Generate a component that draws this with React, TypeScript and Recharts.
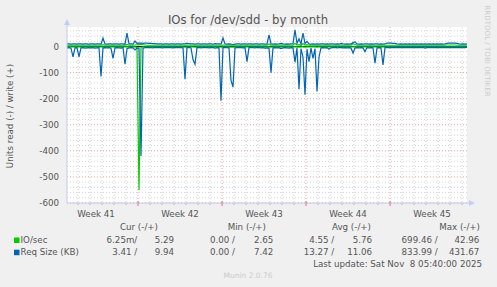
import { ComposedChart, Line, XAxis, YAxis, CartesianGrid, ReferenceLine } from "recharts";

// time axis: days relative to the start of week 42 (first red line)
const startDay = -5.92;
const stepDays = 1 / 6;

const weekLabels = ["Week 41", "Week 42", "Week 43", "Week 44", "Week 45"];
const weekLabelDays = [-3.5, 3.5, 10.5, 17.5, 24.5];
const weekStarts = [0, 7, 14, 21];
const yTicks = [-600, -500, -400, -300, -200, -100, 0];

// IO/sec, read (negative) and write (positive)
const ioRead = [
  -1, -1, -1, -1, -1, -1, -1, -1, -1, -1, -1, -1, -1, -1, -1, -1, -1, -1, -1, -1,
  -1, -1, -1, -1, -1, -1, -1, -1, -1, -1, -1, -1, -1, -1, -1, -3, -550, -3, -1, -1,
  -1, -1, -1, -1, -1, -1, -1, -1, -1, -1, -1, -1, -1, -1, -1, -1, -1, -1, -1, -2,
  -1, -1, -1, -1, -2, -1, -1, -1, -1, -1, -1, -1, -1, -1, -1, -1, -1, -2, -1, -1,
  -1, -1, -2, -2, -1, -1, -1, -1, -1, -1, -1, -1, -1, -1, -1, -1, -1, -1, -1, -1,
  -1, -1, -2, -1, -1, -1, -1, -1, -1, -1, -1, -1, -1, -1, -1, -1, -2, -1, -1, -2,
  -1, -1, -1, -1, -1, -2, -1, -1, -1, -1, -1, -1, -1, -1, -1, -1, -1, -1, -1, -1,
  -1, -1, -1, -1, -1, -1, -1, -1, -1, -1, -1, -1, -1, -1, -1, -1, -1, -1, -1, -1,
  -1, -1, -1, -1, -1, -1, -1, -1, -1, -1, -1, -1, -1, -1, -1, -1, -1, -1, -1, -1,
  -1, -1, -1, -1, -1, -1, -1, -1, -1, -1, -1, -1, -1, -1, -1, -1, -1, -1, -1, -1,
  -1,
];
const ioWrite = [
  5, 5, 5, 5, 5, 5, 5, 5, 5, 5, 5, 5, 5, 5, 5, 5, 5, 5, 7, 5,
  5, 5, 5, 5, 5, 5, 5, 5, 5, 5, 8, 5, 5, 5, 6, 7, 8, 8, 7, 6,
  5, 5, 5, 5, 5, 5, 5, 5, 5, 5, 5, 5, 5, 5, 5, 5, 5, 5, 5, 5,
  5, 5, 5, 5, 5, 5, 5, 5, 5, 5, 5, 5, 5, 5, 5, 5, 5, 5, 6, 5,
  5, 5, 5, 5, 5, 5, 5, 5, 5, 5, 5, 5, 5, 5, 5, 5, 5, 5, 5, 5,
  5, 10, 5, 5, 5, 5, 5, 6, 5, 5, 5, 5, 5, 5, 12, 6, 7, 5, 12, 6,
  7, 5, 5, 5, 5, 5, 5, 5, 5, 5, 5, 5, 5, 5, 5, 5, 5, 6, 5, 5,
  5, 5, 5, 11, 8, 5, 5, 5, 5, 5, 5, 5, 5, 5, 5, 5, 5, 5, 5, 5,
  5, 5, 5, 5, 5, 5, 5, 5, 5, 5, 5, 5, 5, 5, 5, 5, 5, 5, 5, 5,
  5, 5, 5, 5, 5, 5, 5, 5, 5, 5, 6, 6, 6, 6, 6, 5, 5, 5, 5, 5,
  5,
];

// Req Size (KB), read (negative) and write (positive)
const reqRead = [
  -5, -4, -6, -40, -5, -4, -40, -5, -4, -6, -5, -4, -5, -4, -6, -5, -4, -115, -5, -4,
  -5, -4, -6, -45, -5, -4, -5, -6, -4, -68, -8, -5, -4, -5, -13, -6, -5, -420, -6, -4,
  -4, -3, -4, -5, -3, -4, -3, -4, -5, -3, -4, -3, -4, -5, -3, -4, -3, -4, -5, -125,
  -4, -3, -5, -50, -68, -4, -3, -5, -4, -3, -4, -5, -3, -4, -6, -4, -5, -208, -4, -3,
  -4, -5, -130, -155, -5, -4, -3, -4, -5, -4, -58, -4, -3, -4, -5, -3, -4, -5, -4, -6,
  -5, -6, -100, -5, -4, -5, -4, -8, -5, -4, -5, -6, -4, -5, -60, -5, -164, -8, -40, -185,
  -10, -58, -6, -45, -8, -172, -40, -5, -4, -5, -4, -10, -5, -4, -3, -5, -4, -3, -5, -4,
  -5, -4, -6, -25, -6, -4, -5, -4, -5, -20, -4, -5, -4, -5, -64, -5, -4, -5, -70, -4,
  -3, -4, -3, -4, -3, -4, -3, -4, -3, -4, -3, -4, -3, -4, -3, -4, -3, -4, -3, -6,
  -3, -4, -3, -4, -3, -4, -3, -4, -3, -4, -3, -4, -3, -4, -3, -4, -3, -4, -3, -4,
  -3,
];
const reqWrite = [
  10, 10, 9, 10, 10, 9, 10, 10, 9, 10, 10, 9, 10, 10, 9, 10, 10, 9, 32, 10,
  9, 10, 10, 9, 10, 10, 9, 10, 10, 9, 52, 10, 10, 9, 21, 12, 13, 13, 12, 13,
  13, 12, 12, 11, 11, 10, 10, 10, 9, 10, 10, 9, 10, 10, 9, 10, 10, 9, 10, 10,
  12, 11, 10, 10, 9, 10, 10, 9, 10, 10, 9, 10, 10, 9, 11, 10, 10, 9, 33, 10,
  9, 10, 9, 8, 9, 10, 10, 9, 10, 10, 9, 10, 10, 9, 10, 10, 9, 10, 10, 9,
  10, 45, 10, 9, 10, 9, 10, 12, 10, 9, 10, 9, 10, 11, 64, 12, 30, 10, 52, 12,
  20, 10, 9, 10, 9, 10, 9, 10, 10, 9, 10, 9, 10, 10, 9, 10, 9, 12, 10, 9,
  10, 9, 10, 15, 18, 10, 9, 10, 9, 10, 10, 9, 10, 9, 10, 10, 9, 10, 9, 10,
  13, 13, 13, 12, 12, 10, 9, 10, 9, 10, 9, 10, 9, 10, 9, 10, 9, 10, 9, 10,
  9, 10, 9, 10, 9, 10, 9, 10, 9, 10, 12, 13, 13, 13, 13, 12, 10, 9, 10, 9,
  10,
];

const legendSeries = ["IO/sec", "Req Size (KB)"];
const legendColors = ["#00cc00", "#0066b3"];
const legendHeaders = ["Cur (-/+)", "Min (-/+)", "Avg (-/+)", "Max (-/+)"];
const legendValues = [
  ["6.25m/", "5.29", "0.00 /", "2.65", "4.55 /", "5.76", "699.46 /", "42.96"],
  ["3.41 /", "9.94", "0.00 /", "7.42", "13.27 /", "11.06", "833.99 /", "431.67"],
];
const lastUpdate = "Last update: Sat Nov  8 05:40:00 2025";

const rows = reqRead.map((_, i) => ({
  t: startDay + i * stepDays,
  ioRead: ioRead[i],
  ioWrite: ioWrite[i],
  reqRead: reqRead[i],
  reqWrite: reqWrite[i],
}));
const endDay = startDay + (reqRead.length - 1) * stepDays;

const plotLeft = 67;
const plotRight = 467;
const plotTop = 27;
const plotBottom = 203;
const pxPerDay = (plotRight - plotLeft) / (endDay - startDay);

const minorH: number[] = [];
for (let v = -580; v <= 60; v += 20) if (v % 100 !== 0) minorH.push(v);
const majorH = [-600, -500, -400, -300, -200, -100];
const minorV: number[] = [];
for (let d = Math.ceil(startDay); d <= endDay; d++) if (d % 7 !== 0) minorV.push(d);

const font = "'DejaVu Sans', sans-serif";
const txt = "#555";
const axisCol = "#c5ccf2";
const colEnds = [137.3, 174, 235, 273.3, 334.3, 372, 437.7, 479.3];
const headerEnds = [158, 266, 371, 480];

export default function App() {
  return (
    <div
      style={{
        position: "fixed",
        left: 0,
        top: 0,
        width: 497,
        height: 287,
        background: "#f0f0f0",
        fontFamily: font,
      }}
    >
      <ComposedChart
        width={497}
        height={287}
        data={rows}
        margin={{ top: plotTop, right: 497 - plotRight, bottom: 64, left: 0 }}
      >
        <CartesianGrid
          fill="#ffffff"
          stroke="#d4d4d4"
          strokeDasharray="1 2"
          horizontalValues={minorH}
          verticalValues={minorV}
        />
        <CartesianGrid
          stroke="#e8a0a0"
          strokeDasharray="1 2"
          horizontalValues={majorH}
          verticalValues={weekStarts}
        />
        <XAxis
          type="number"
          dataKey="t"
          domain={[startDay, endDay]}
          ticks={weekLabelDays}
          tickFormatter={(v: number) => weekLabels[weekLabelDays.indexOf(v)]}
          axisLine={false}
          tickLine={false}
          height={20}
          interval={0}
          allowDataOverflow
          tick={{ fontSize: 8.7, fill: txt, fontFamily: font }}
        />
        <YAxis
          type="number"
          domain={[-600, 75]}
          ticks={yTicks}
          width={plotLeft}
          axisLine={false}
          tickLine={false}
          interval={0}
          allowDataOverflow
          tick={{ fontSize: 8.7, fill: txt, fontFamily: font }}
        />
        <ReferenceLine y={0} stroke="#000" strokeWidth={1} />
        <Line type="linear" dataKey="ioRead" stroke="#00cc00" strokeWidth={1.2} dot={false} isAnimationActive={false} />
        <Line type="linear" dataKey="ioWrite" stroke="#00cc00" strokeWidth={1.2} dot={false} isAnimationActive={false} />
        <Line type="linear" dataKey="reqRead" stroke="#0066b3" strokeWidth={1.2} dot={false} isAnimationActive={false} />
        <Line type="linear" dataKey="reqWrite" stroke="#0066b3" strokeWidth={1.2} dot={false} isAnimationActive={false} />
      </ComposedChart>

      <svg
        width={497}
        height={287}
        style={{ position: "absolute", left: 0, top: 0, pointerEvents: "none" }}
        fontFamily={font}
      >
        {/* axes with arrows */}
        <line x1={plotLeft} y1={23} x2={plotLeft} y2={plotBottom} stroke={axisCol} />
        <polygon points={`${plotLeft - 3},25 ${plotLeft + 3},25 ${plotLeft},19`} fill={axisCol} />
        <line x1={plotLeft} y1={plotBottom} x2={470} y2={plotBottom} stroke={axisCol} />
        <polygon points={`469,200 469,206 475,${plotBottom}`} fill={axisCol} />
        {minorV.map((d) => (
          <line
            key={"t" + d}
            x1={plotLeft + (d - startDay) * pxPerDay}
            x2={plotLeft + (d - startDay) * pxPerDay}
            y1={plotBottom}
            y2={plotBottom + 2}
            stroke="#bbb"
          />
        ))}
        {weekStarts.map((d) => (
          <line
            key={"w" + d}
            x1={plotLeft + (d - startDay) * pxPerDay}
            x2={plotLeft + (d - startDay) * pxPerDay}
            y1={plotBottom - 2}
            y2={plotBottom + 3}
            stroke="#e07070"
          />
        ))}

        <text x={248} y={24} textAnchor="middle" fontSize={11.7} fill={txt}>
          IOs for /dev/sdd - by month
        </text>
        <text
          x={0}
          y={0}
          transform="translate(13,116) rotate(-90)"
          textAnchor="middle"
          fontSize={8.7}
          fill={txt}
        >
          Units read (-) / write (+)
        </text>
        <text
          x={0}
          y={0}
          transform="translate(485,51) rotate(90)"
          textAnchor="middle"
          fontSize={7.1}
          fill="#cccccc"
        >
          RRDTOOL / TOBI OETIKER
        </text>

        {legendHeaders.map((h, i) => (
          <text key={h} x={headerEnds[i]} y={230} textAnchor="end" fontSize={8.7} fill={txt}>
            {h}
          </text>
        ))}
        {legendSeries.map((s, r) => (
          <g key={s}>
            <rect x={14} y={237.5 + r * 12.2} width={5.5} height={5.5} fill={legendColors[r]} />
            <text x={20.5} y={242.5 + r * 12.2} fontSize={8.7} fill={txt}>
              {s}
            </text>
            {legendValues[r].map((v, c) => (
              <text
                key={c}
                x={colEnds[c]}
                y={242.5 + r * 12.2}
                textAnchor="end"
                fontSize={8.7}
                fill={txt}
                style={{ whiteSpace: "pre" }}
              >
                {v}
              </text>
            ))}
          </g>
        ))}
        <text x={482} y={266.5} textAnchor="end" fontSize={8.7} fill={txt} style={{ whiteSpace: "pre" }}>
          {lastUpdate}
        </text>
        <text x={248} y={278} textAnchor="middle" fontSize={7.5} fill="#cccccc">
          Munin 2.0.76
        </text>
      </svg>
    </div>
  );
}
